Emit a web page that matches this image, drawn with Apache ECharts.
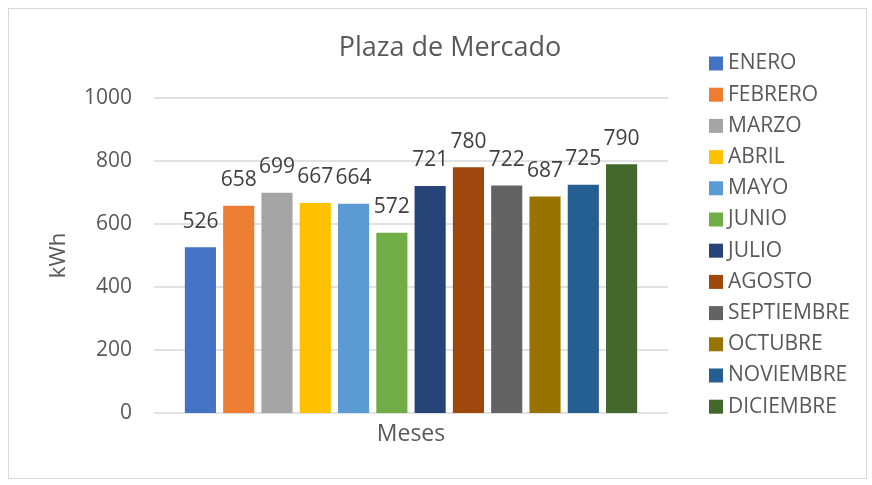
<!DOCTYPE html>
<html><head><meta charset="utf-8">
<script src="https://cdn.jsdelivr.net/npm/echarts@6/dist/echarts.min.js"></script>
<style>html,body{margin:0;padding:0;background:#fff}#c{width:872px;height:485px}
#frame{position:absolute;left:8px;top:8px;width:857px;height:469px;border:1px solid #d9d9d9;pointer-events:none}</style>
</head><body><div id="c"></div><div id="frame"></div>
<script>
const categories = ["Meses"];
const months = ["ENERO","FEBRERO","MARZO","ABRIL","MAYO","JUNIO","JULIO","AGOSTO","SEPTIEMBRE","OCTUBRE","NOVIEMBRE","DICIEMBRE"];
const values = [526,658,699,667,664,572,721,780,722,687,725,790];
const colors = ["#4472C4","#ED7D31","#A5A5A5","#FFC000","#5B9BD5","#70AD47","#264478","#9E480E","#636363","#997300","#255E91","#43682B"];
const yTicks = [0,200,400,600,800,1000];

const FONT = "'Open Sans',sans-serif";
const chart = echarts.init(document.getElementById('c'));
chart.setOption({
  animation:false,
  textStyle:{fontFamily:FONT},
  title:{text:"Plaza de Mercado",left:445,top:30,textAlign:'center',
    textStyle:{fontFamily:FONT,fontSize:27,fontWeight:'normal',color:'#595959'}},
  legend:{orient:'vertical',left:704,top:48,itemWidth:14,itemHeight:14,itemGap:10.2,
    icon:'rect',data:months,
    textStyle:{fontFamily:FONT,fontSize:21,color:'#595959'}},
  grid:{left:154,right:204,top:98,bottom:72,containLabel:false},
  xAxis:{type:'category',data:categories,name:'Meses',nameLocation:'middle',nameGap:10,
    nameTextStyle:{fontFamily:FONT,fontSize:23,color:'#595959',verticalAlign:'top'},
    axisLine:{show:false},axisTick:{show:false},axisLabel:{show:false}},
  yAxis:{type:'value',min:0,max:1000,interval:200,name:'kWh',nameLocation:'middle',nameGap:84,
    nameTextStyle:{fontFamily:FONT,fontSize:22,color:'#595959'},
    axisLine:{show:false},axisTick:{show:false},
    axisLabel:{fontFamily:FONT,fontSize:21,color:'#595959',margin:22,
      formatter:v=>yTicks.includes(v)?String(v):''},
    splitLine:{lineStyle:{color:'#d9d9d9',width:1.5}}},
  series: months.map((m,i)=>({
    name:m,type:'bar',data:[values[i]],
    itemStyle:{color:colors[i]},
    barGap:'23%',barCategoryGap:'12%',
    label:{show:true,position:'top',distance:15,fontFamily:FONT,fontSize:21,color:'#404040'}
  }))
});
</script></body></html>
